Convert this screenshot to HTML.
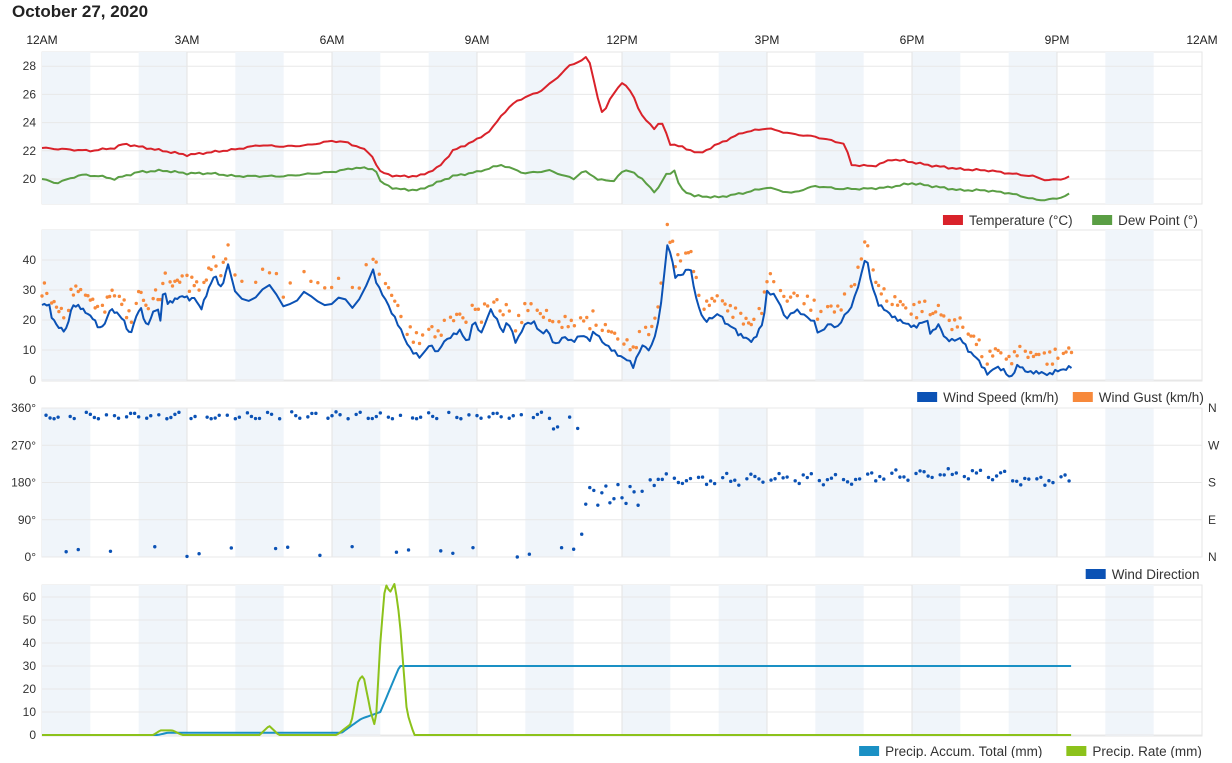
<!DOCTYPE html>
<html><head><meta charset="utf-8"><style>
body{margin:0;background:#fff;font-family:"Liberation Sans",sans-serif;}
svg text{font-family:"Liberation Sans",sans-serif;}
</style></head><body>
<svg id="s" width="1232" height="758" xmlns="http://www.w3.org/2000/svg">
<text x="12" y="17" font-size="17" font-weight="bold" fill="#222">October 27, 2020</text>
</svg>
<script>
const S=document.getElementById('s');const NS='http://www.w3.org/2000/svg';
function el(t,a,txt){const e=document.createElementNS(NS,t);for(const k in a)e.setAttribute(k,a[k]);if(txt!==undefined)e.textContent=txt;S.appendChild(e);return e;}
const X0=42,X1=1202,PH=(X1-X0)/24;const hx=h=>X0+h*PH;
const labs=['12AM','3AM','6AM','9AM','12PM','3PM','6PM','9PM','12AM'];
labs.forEach((l,i)=>el('text',{x:hx(i*3),y:44,'font-size':12,fill:'#222','text-anchor':'middle'},l));
const panels=[[52,204],[230,381],[408,557],[585,736]];
panels.forEach(([t,b])=>{
 el('rect',{x:X0,y:t,width:X1-X0,height:b-t,fill:'#fff',stroke:'#e6e6e6'});
 for(let h=0;h<24;h+=2)el('rect',{x:hx(h),y:t,width:PH,height:b-t,fill:'#f0f5fa'});
 for(let h=3;h<24;h+=3)el('line',{x1:hx(h),x2:hx(h),y1:t,y2:b,stroke:'#e3e3e3'});
});
function hgrid(vals,f,fmt){vals.forEach(v=>{const y=f(v);el('line',{x1:X0,x2:X1,y1:y,y2:y,stroke:'#e8e8e8'});el('text',{x:36,y:y+4,'font-size':12,fill:'#333','text-anchor':'end'},fmt?fmt(v):v);});}
const tY=v=>179-(v-20)*14.1, wY=v=>380-v*3, dY=v=>557-v*149/360, pY=v=>735-v*2.3;
hgrid([20,22,24,26,28],tY);hgrid([0,10,20,30,40],wY);hgrid([0,90,180,270,360],dY,v=>v+'°');hgrid([0,10,20,30,40,50,60],pY);
[['N',360],['W',270],['S',180],['E',90],['N',0]].forEach(([l,v])=>el('text',{x:1208,y:dY(v)+4,'font-size':12,fill:'#333'},l));
function interp(k,step,noise){const o=[];for(let h=k[0][0];h<=k[k.length-1][0]+1e-9;h+=step){let i=0;while(i<k.length-2&&k[i+1][0]<h)i++;const [a,va]=k[i],[b,vb]=k[i+1];let v=va+(vb-va)*Math.min(1,Math.max(0,(h-a)/(b-a)));v+=noise?(Math.sin(h*37.1)*0.5+Math.sin(h*91.7)*0.5)*noise:0;o.push([h,v]);}return o;}
function line(pts,f,c,w){el('polyline',{points:pts.map(p=>hx(p[0]).toFixed(1)+','+f(p[1]).toFixed(1)).join(' '),fill:'none',stroke:c,'stroke-width':w||2,'stroke-linejoin':'round'});}
const T=[[0,22.2],[.5,22.1],[1,22],[1.5,22.2],[1.7,22.5],[2,22.3],[2.5,22],[3,21.7],[3.5,21.9],[4,22.1],[4.5,22.4],[5,22.3],[5.5,22.4],[6,22.7],[6.3,22.6],[6.6,22.2],[6.8,21.8],[7,20.5],[7.3,20.2],[7.8,20.2],[8.2,20.8],[8.5,22],[9,22.8],[9.3,23.5],[9.5,24.5],[9.8,25.5],[10,25.8],[10.3,26.2],[10.6,27],[10.9,28],[11.2,28.5],[11.3,28.7],[11.5,25.8],[11.6,24.5],[11.8,26],[12,26.8],[12.2,26.2],[12.4,24.5],[12.7,23.5],[12.8,24.2],[13,22.5],[13.3,22.2],[13.6,21.8],[14,22.5],[14.5,23.3],[15,23.6],[15.5,23.2],[16,23],[16.6,22.5],[16.75,21],[17.2,20.9],[17.6,21.4],[18,21.2],[18.3,21],[19,20.7],[19.6,20.6],[20,20.4],[20.5,20.2],[20.8,19.9],[21.1,20],[21.3,20.2]];
const D=[[0,20],[.3,19.7],[.8,20.3],[1.2,20.2],[1.5,20],[2,20.5],[2.5,20.6],[3,20.4],[3.5,20.4],[4,20.2],[5,20.2],[6,20.5],[6.5,20.8],[6.9,20.7],[7,19.8],[7.3,19.3],[7.8,19.2],[8,19.5],[8.5,20.2],[9,20.5],[9.5,21],[10,20.4],[10.5,20.6],[11,20],[11.2,20.6],[11.5,20],[11.8,19.8],[12,20.5],[12.2,20.6],[12.5,19.7],[12.7,19],[12.9,20.3],[13.1,20.6],[13.2,19.3],[13.5,18.8],[14,18.7],[14.5,19],[15,19.4],[15.5,19],[16,19.5],[16.5,19.3],[17,19.3],[17.5,19.4],[18,19.7],[19,19.2],[19.5,19.2],[20,19],[20.6,18.5],[21,18.6],[21.3,19]];
line(interp(T,1/12,0.08),tY,'#d9222a');line(interp(D,1/12,0.08),tY,'#5a9e44');
const W=[[0,25],[.2,25],[.3,20],[.5,17],[.7,16],[.9,25],[1.1,25],[1.3,23],[1.5,21],[1.7,17],[1.9,19],[2,23],[2.2,22],[2.4,20],[2.6,15],[2.8,22],[2.9,25],[3.1,18],[3.3,23],[3.4,24],[3.5,20],[3.6,31],[3.7,25],[3.9,26],[4,27],[4.2,28],[4.4,27],[4.5,28],[4.7,24],[4.9,30],[5.1,35],[5.3,30],[5.5,38],[5.6,26],[5.8,27],[5.9,33],[6.1,24],[6.3,30],[6.5,25],[6.7,28],[6.8,23],[7,36],[7.1,31],[7.3,26],[7.4,23],[7.6,18],[7.8,12],[7.9,10],[8.1,8],[8.3,12],[8.5,9],[8.6,12],[8.8,14],[9,16],[9.2,12],[9.3,20],[9.5,16],[9.7,24],[9.8,22],[10,16],[10.1,20],[10.3,12],[10.5,18],[10.7,19],[10.9,15],[11,17],[11.2,12],[11.4,15],[11.6,13],[11.8,15],[12,13],[12.1,16],[12.3,12],[12.5,10],[12.7,8],[12.9,7],[13,5],[13.2,12],[13.4,10],[13.6,20],[13.8,46],[14,34],[14.2,35],[14.4,38],[14.6,26],[14.8,20],[15,21],[15.2,22],[15.4,18],[15.6,17],[15.7,15],[15.9,14],[16.1,13],[16.2,15],[16.4,20],[16.5,30],[16.7,28],[16.9,20],[17.1,23],[17.3,21],[17.5,19],[17.6,15],[17.8,19],[18,18],[18.1,21],[18.3,25],[18.5,35],[18.6,42],[18.7,34],[18.9,25],[19.1,23],[19.3,21],[19.5,20],[19.7,19],[19.9,18],[20,19],[20.2,20],[20.3,15],[20.5,18],[20.7,13],[20.9,13],[21.1,14],[21.3,10],[21.5,8],[21.6,6],[21.8,2],[22,4],[22.2,3],[22.4,0],[22.6,5],[22.8,3],[23,3],[23.2,3],[23.4,2],[23.6,3],[23.8,3],[24,4]];
const MAP=[[0,0],[5.5,3.85],[7.0,6.85],[13.8,12.95],[16.5,15.0],[18.6,17.05],[24,21.3]];
function mp(h){for(let i=0;i<MAP.length-1;i++){const [a,A]=MAP[i],[b,B]=MAP[i+1];if(h<=b)return A+(B-A)*(h-a)/(b-a);}return 21.3;}
const Wp=interp(W,1/14,1.0).map(p=>[mp(p[0]),Math.max(0,p[1])]);
Wp.forEach((p,i)=>{if(i%7!=3)el('circle',{cx:hx(p[0]),cy:wY(p[1]+3+Math.abs(Math.sin(i*1.7))*4),r:1.7,fill:'#f7893b'});});
line(Wp,wY,'#0b52b5',2);
for(let i=0;i<256;i++){const h=i/12;if(h>21.3)break;let v;
 if(h<11.1){if(i%5==0)continue; v=(Math.sin(i*2.3)>0.85)?Math.abs(Math.sin(i*4.1))*25:352-Math.abs(Math.sin(i*3.7))*18-(h>10.5&&Math.sin(i)>0.3?25:0);if(v<0)v=0;}
 else if(h<12.5){v=150+Math.sin(i*1.9)*25;if(i==134)v=55;}
 else{if(i%6==0)continue;v=188+Math.sin(i*0.9)*10+(h>17&&h<20?10:0)+Math.sin(i*3.3)*6;}
 el('circle',{cx:hx(h),cy:dY(Math.min(360,v)),r:1.7,fill:'#0b52b5'});}
const A=[[0,0],[2.4,0],[2.6,1],[6.2,1],[6.6,7],[7.0,10],[7.4,30],[21.3,30]];
const R=[[0,0],[2.3,0],[2.45,2],[2.7,2],[2.9,0],[4.5,0],[4.7,4],[4.9,0],[6.1,0],[6.4,5],[6.55,24],[6.65,26],[6.8,10],[6.9,3],[7.0,40],[7.1,66],[7.2,62],[7.3,66],[7.4,50],[7.55,10],[7.7,0],[21.3,0]];
line(interp(A,1/24,0),pY,'#1a90c4');line(interp(R,1/24,0),pY,'#8cc21b');
function legend(y,items){let x=1202;for(let i=items.length-1;i>=0;i--){const [c,t]=items[i];const w=t.length*6.45;x-=w;el('text',{x:x,y:y+5,'font-size':13.5,fill:'#333'},t);x-=26;el('rect',{x:x,y:y-5,width:20,height:10,fill:c});x-=20;}}
legend(220,[['#d9222a','Temperature (°C)'],['#5a9e44','Dew Point (°)']]);
legend(397,[['#0b52b5','Wind Speed (km/h)'],['#f7893b','Wind Gust (km/h)']]);
legend(574,[['#0b52b5','Wind Direction']]);
legend(751,[['#1a90c4','Precip. Accum. Total (mm)'],['#8cc21b','Precip. Rate (mm)']]);
</script>
</body></html>
